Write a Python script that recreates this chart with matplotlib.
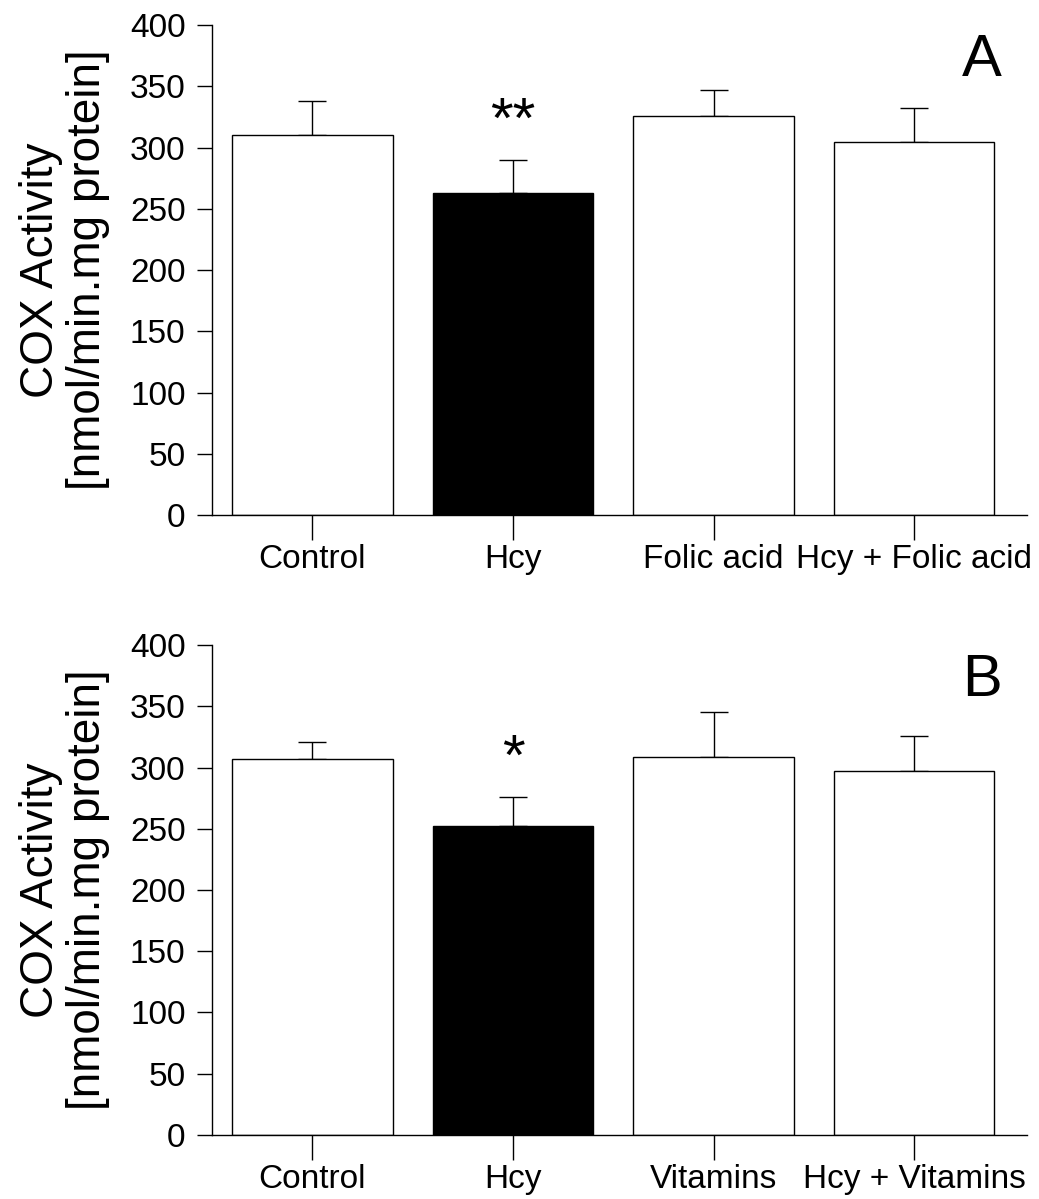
import matplotlib
matplotlib.use("Agg")
import matplotlib.pyplot as plt
import numpy as np

plt.rcParams["font.family"] = ["Liberation Sans", "DejaVu Sans"]

# Panel A
labels_a = ["Control", "Hcy", "Folic acid", "Hcy + Folic acid"]
means_a = [310, 263, 326, 305]
errs_a = [28, 27, 21, 27]
colors_a = ["white", "black", "white", "white"]

# Panel B
labels_b = ["Control", "Hcy", "Vitamins", "Hcy + Vitamins"]
means_b = [307, 252, 309, 297]
errs_b = [14, 24, 36, 29]
colors_b = ["white", "black", "white", "white"]

stars_a = ["", "**", "", ""]
stars_b = ["", "*", "", ""]


def draw_panel(ax, labels, means, errs, colors, stars, letter):
    x = np.arange(len(labels))
    ax.bar(x, means, width=0.8, color=colors, edgecolor="black", linewidth=1.0,
           zorder=2)
    # erreur vers le haut seulement
    ax.errorbar(x, means, yerr=[np.zeros(len(errs)), errs], fmt="none",
                ecolor="black", elinewidth=1.0, capsize=10, capthick=1.0,
                zorder=1)
    for xi, m, e, s in zip(x, means, errs, stars):
        if s:
            ax.text(xi, m + e + 18, s, ha="center", va="baseline", fontsize=42)
    ax.set_xlim(-0.5, 3.56)
    ax.set_ylim(0, 400)
    ax.set_yticks(range(0, 401, 50))
    ax.set_xticks(x)
    ax.set_xticklabels(labels)
    ax.tick_params(axis="y", direction="out", length=11, width=1.0,
                   labelsize=24, pad=8)
    ax.tick_params(axis="x", direction="out", length=18, width=1.0,
                   labelsize=24, pad=3)
    ax.spines["top"].set_visible(False)
    ax.spines["right"].set_visible(False)
    ax.spines["left"].set_linewidth(1.0)
    ax.spines["bottom"].set_linewidth(1.0)
    ax.set_ylabel("COX Activity\n[nmol/min.mg protein]", fontsize=33,
                  linespacing=1.1)
    ax.yaxis.set_label_coords(-0.125, 0.5)
    ax.text(0.945, 0.928, letter, transform=ax.transAxes, ha="center",
            va="center", fontsize=43)


fig = plt.figure(figsize=(10.39, 11.99), dpi=100)
ax_a = fig.add_axes([0.204, 0.5705, 0.784, 0.4085])
ax_b = fig.add_axes([0.204, 0.0534, 0.784, 0.4086])

draw_panel(ax_a, labels_a, means_a, errs_a, colors_a, stars_a, "A")
draw_panel(ax_b, labels_b, means_b, errs_b, colors_b, stars_b, "B")

fig.savefig("out.png", dpi=100)
